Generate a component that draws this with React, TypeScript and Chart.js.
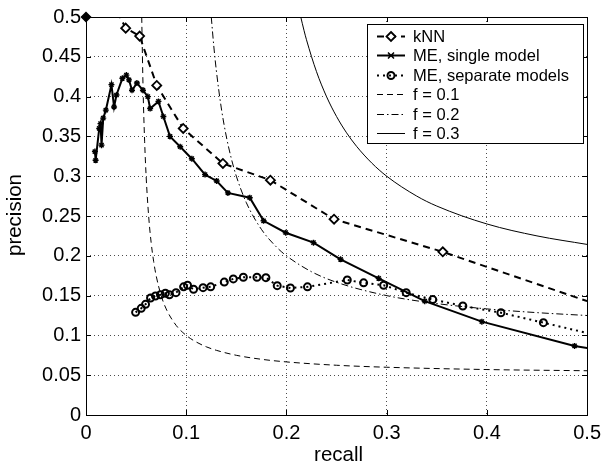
import React, { useEffect, useRef } from "react";
import { Chart, registerables } from "chart.js";
Chart.register(...registerables);

// ---- data ----
const knnRecall = [0, 0.026, 0.0396, 0.0535, 0.0706, 0.097, 0.1366, 0.184, 0.2475, 0.356, 0.5];
const knnPrecision = [0.5, 0.52, 0.486, 0.476, 0.414, 0.36, 0.316, 0.295, 0.246, 0.205, 0.143];

const meSingleRecall = [0.0089, 0.0096, 0.0132, 0.0145, 0.0155, 0.0172, 0.0198, 0.0254, 0.028, 0.0304, 0.0363, 0.0403, 0.0429, 0.0459, 0.0508, 0.0568, 0.0617, 0.064, 0.0723, 0.0772, 0.0838, 0.094, 0.1056, 0.1188, 0.1304, 0.1416, 0.1634, 0.1772, 0.1993, 0.227, 0.254, 0.292, 0.338, 0.395, 0.4875, 0.5];
const meSinglePrecision = [0.331, 0.32, 0.36, 0.366, 0.339, 0.373, 0.383, 0.415, 0.387, 0.402, 0.423, 0.427, 0.421, 0.408, 0.417, 0.408, 0.4, 0.385, 0.394, 0.375, 0.35, 0.337, 0.322, 0.302, 0.294, 0.279, 0.273, 0.244, 0.229, 0.2165, 0.1956, 0.1717, 0.143, 0.1173, 0.0867, 0.084];

const meSepRecall = [0.0495, 0.0551, 0.0594, 0.0644, 0.0693, 0.0743, 0.0792, 0.0832, 0.0898, 0.0974, 0.1013, 0.1073, 0.1168, 0.1244, 0.138, 0.147, 0.157, 0.1706, 0.1795, 0.1908, 0.204, 0.221, 0.2607, 0.277, 0.297, 0.3195, 0.346, 0.376, 0.414, 0.4564, 0.5];
const meSepPrecision = [0.129, 0.134, 0.139, 0.147, 0.1495, 0.151, 0.153, 0.151, 0.1537, 0.161, 0.163, 0.158, 0.16, 0.161, 0.167, 0.171, 0.173, 0.173, 0.1725, 0.1625, 0.1595, 0.161, 0.1696, 0.166, 0.163, 0.1537, 0.145, 0.137, 0.1285, 0.116, 0.103];

const f01Recall = [0.0556, 0.057, 0.0585, 0.06, 0.0625, 0.065, 0.0675, 0.07, 0.075, 0.08, 0.09, 0.1, 0.11, 0.12, 0.13, 0.15, 0.175, 0.2, 0.25, 0.3, 0.4, 0.5];
const f01Precision = [0.5, 0.407, 0.344, 0.3, 0.25, 0.2167, 0.193, 0.175, 0.15, 0.1333, 0.1125, 0.1, 0.0917, 0.0857, 0.0813, 0.075, 0.07, 0.0667, 0.0625, 0.06, 0.0571, 0.0556];

const f02Recall = [0.125, 0.1275, 0.13, 0.135, 0.14, 0.145, 0.15, 0.16, 0.175, 0.19, 0.2, 0.225, 0.25, 0.3, 0.35, 0.4, 0.45, 0.5];
const f02Precision = [0.5, 0.4636, 0.4333, 0.3857, 0.35, 0.3222, 0.3, 0.2667, 0.2333, 0.2111, 0.2, 0.18, 0.1667, 0.15, 0.14, 0.1333, 0.1286, 0.125];

const f03Recall = [0.2143, 0.2175, 0.22, 0.23, 0.24, 0.25, 0.26, 0.27, 0.285, 0.3, 0.33, 0.35, 0.4, 0.45, 0.5];
const f03Precision = [0.5, 0.4833, 0.4714, 0.4313, 0.4, 0.375, 0.3545, 0.3375, 0.3167, 0.3, 0.275, 0.2625, 0.24, 0.225, 0.2143];

const xTickValues = [0, 0.1, 0.2, 0.3, 0.4, 0.5];
const xTickLabels = ["0", "0.1", "0.2", "0.3", "0.4", "0.5"];
const yTickValues = [0, 0.05, 0.1, 0.15, 0.2, 0.25, 0.3, 0.35, 0.4, 0.45, 0.5];
const yTickLabels = ["0", "0.05", "0.1", "0.15", "0.2", "0.25", "0.3", "0.35", "0.4", "0.45", "0.5"];

const legendLabels = ["kNN", "ME, single model", "ME, separate models", "f = 0.1", "f = 0.2", "f = 0.3"];
const xTitle = "recall";
const yTitle = "precision";

const FONT = '"Liberation Sans", Arial, Helvetica, sans-serif';

const pts = (xs: number[], ys: number[]) => xs.map((x, i) => ({ x, y: ys[i] }));

function drawMarker(ctx: CanvasRenderingContext2D, kind: string, x: number, y: number) {
  ctx.save();
  ctx.setLineDash([]);
  ctx.strokeStyle = "#000";
  if (kind === "diamond") {
    ctx.lineWidth = 1.8;
    ctx.fillStyle = "#fff";
    ctx.beginPath();
    ctx.moveTo(x, y - 4.5);
    ctx.lineTo(x + 4.5, y);
    ctx.lineTo(x, y + 4.5);
    ctx.lineTo(x - 4.5, y);
    ctx.closePath();
    ctx.fill();
    ctx.stroke();
  } else if (kind === "star") {
    ctx.lineWidth = 1.5;
    ctx.beginPath();
    const r = 3;
    ctx.moveTo(x - r, y - r); ctx.lineTo(x + r, y + r);
    ctx.moveTo(x - r, y + r); ctx.lineTo(x + r, y - r);
    ctx.moveTo(x - r, y); ctx.lineTo(x + r, y);
    ctx.stroke();
  } else if (kind === "circle") {
    ctx.lineWidth = 2;
    ctx.beginPath();
    ctx.arc(x, y, 3.5, 0, Math.PI * 2);
    ctx.stroke();
  }
  ctx.restore();
}

const decorPlugin = {
  id: "decor",
  afterDraw(chart: any) {
    const { ctx, chartArea: a, scales } = chart;
    ctx.save();
    // frame
    ctx.setLineDash([]);
    ctx.strokeStyle = "#000";
    ctx.lineWidth = 1;
    ctx.strokeRect(Math.round(a.left) + 0.5, Math.round(a.top) + 0.5, Math.round(a.right - a.left), Math.round(a.bottom - a.top));
    // inward tick marks on all four sides
    const tl = 5;
    ctx.beginPath();
    xTickValues.forEach((v) => {
      const px = Math.round(scales.x.getPixelForValue(v)) + 0.5;
      ctx.moveTo(px, a.bottom); ctx.lineTo(px, a.bottom - tl);
      ctx.moveTo(px, a.top); ctx.lineTo(px, a.top + tl);
    });
    yTickValues.forEach((v) => {
      const py = Math.round(scales.y.getPixelForValue(v)) + 0.5;
      ctx.moveTo(a.left, py); ctx.lineTo(a.left + tl, py);
      ctx.moveTo(a.right, py); ctx.lineTo(a.right - tl, py);
    });
    ctx.stroke();

    // axis titles
    ctx.fillStyle = "#000";
    ctx.font = `20.5px ${FONT}`;
    ctx.textAlign = "center";
    ctx.textBaseline = "alphabetic";
    ctx.fillText(xTitle, (a.left + a.right) / 2 + 2, 461);
    ctx.save();
    ctx.translate(21, (a.top + a.bottom) / 2 - 1);
    ctx.rotate(-Math.PI / 2);
    ctx.fillText(yTitle, 0, 0);
    ctx.restore();

    // legend
    const bx = 367.5, by = 24.5, bw = 216, bh = 119;
    ctx.fillStyle = "#fff";
    ctx.fillRect(bx, by, bw, bh);
    ctx.strokeStyle = "#000";
    ctx.lineWidth = 1;
    ctx.strokeRect(bx, by, bw, bh);
    const styles = [
      { w: 2, dash: [7, 5], marker: "diamond" },
      { w: 2, dash: [], marker: "star" },
      { w: 2, dash: [2, 4], marker: "circle" },
      { w: 1, dash: [6, 4], marker: "" },
      { w: 1, dash: [7, 3, 1.5, 3], marker: "" },
      { w: 1, dash: [], marker: "" },
    ];
    ctx.font = `16.5px ${FONT}`;
    ctx.textAlign = "left";
    ctx.textBaseline = "middle";
    legendLabels.forEach((lab, i) => {
      const y = Math.round(36 + i * 19.4) + 0.5;
      const s = styles[i];
      ctx.strokeStyle = "#000";
      ctx.lineWidth = s.w;
      ctx.setLineDash(s.dash);
      ctx.beginPath();
      ctx.moveTo(377, y);
      ctx.lineTo(405, y);
      ctx.stroke();
      ctx.setLineDash([]);
      if (s.marker) drawMarker(ctx, s.marker, 391, y);
      ctx.fillStyle = "#000";
      ctx.fillText(lab, 413, y + 1);
    });
    ctx.restore();
  },
};

export default function App() {
  const ref = useRef<HTMLCanvasElement>(null);
  useEffect(() => {
    const knnLine = pts(knnRecall.slice(1), knnPrecision.slice(1));
    const knnCorner = pts(knnRecall.slice(0, 1), knnPrecision.slice(0, 1));
    const knnRadius = knnLine.map((p) => (p.y > 0.5 || p.x >= 0.5 ? 0 : 4.5));
    const meRadius = meSingleRecall.map((x) => (x >= 0.5 ? 0 : 3));
    const sepRadius = meSepRecall.map((x) => (x >= 0.5 ? 0 : 3.5));
    const gridCommon = {
      color: "rgba(0,0,0,0.7)",
      lineWidth: 1,
      drawTicks: false,
    };
    const chart = new Chart(ref.current!, {
      type: "scatter",
      data: {
        datasets: [
          {
            label: "kNN corner",
            data: knnCorner,
            showLine: false,
            pointStyle: "rectRot",
            pointRadius: 4.5,
            pointBorderWidth: 1.5,
            pointBackgroundColor: "#000",
            pointBorderColor: "#000",
            clip: false,
          } as any,
          {
            label: legendLabels[0],
            data: knnLine,
            showLine: true,
            borderColor: "#000",
            borderWidth: 2,
            borderDash: [7, 5],
            pointStyle: "rectRot",
            pointRadius: knnRadius,
            pointBorderWidth: 1.8,
            pointBackgroundColor: "#fff",
            pointBorderColor: "#000",
          },
          {
            label: legendLabels[1],
            data: pts(meSingleRecall, meSinglePrecision),
            showLine: true,
            borderColor: "#000",
            borderWidth: 2,
            pointStyle: "star",
            pointRadius: meRadius,
            pointBorderWidth: 1.4,
            pointBorderColor: "#000",
            pointBackgroundColor: "#000",
          },
          {
            label: legendLabels[2],
            data: pts(meSepRecall, meSepPrecision),
            showLine: true,
            borderColor: "#000",
            borderWidth: 2,
            borderDash: [2, 4],
            pointStyle: "circle",
            pointRadius: sepRadius,
            pointBorderWidth: 2,
            pointBorderColor: "#000",
            pointBackgroundColor: "rgba(255,255,255,0)",
          },
          {
            label: legendLabels[3],
            data: pts(f01Recall, f01Precision),
            showLine: true,
            borderColor: "#000",
            borderWidth: 1,
            borderDash: [6, 4],
            pointRadius: 0,
            cubicInterpolationMode: "monotone",
          },
          {
            label: legendLabels[4],
            data: pts(f02Recall, f02Precision),
            showLine: true,
            borderColor: "#000",
            borderWidth: 1,
            borderDash: [7, 3, 1.5, 3],
            pointRadius: 0,
            cubicInterpolationMode: "monotone",
          },
          {
            label: legendLabels[5],
            data: pts(f03Recall, f03Precision),
            showLine: true,
            borderColor: "#000",
            borderWidth: 1,
            pointRadius: 0,
            cubicInterpolationMode: "monotone",
          },
        ],
      },
      options: {
        responsive: false,
        animation: false,
        devicePixelRatio: 1,
        layout: { padding: { top: 17, right: 16, left: 0, bottom: 0 } },
        plugins: { legend: { display: false }, tooltip: { enabled: false } },
        scales: {
          x: {
            type: "linear",
            min: 0,
            max: 0.5,
            afterBuildTicks: (s: any) => { s.ticks = xTickValues.map((v) => ({ value: v })); },
            afterFit: (s: any) => { s.height = 51; },
            grid: gridCommon,
            border: { display: false, dash: [1, 3] },
            ticks: {
              color: "#000",
              font: { family: FONT, size: 20 },
              padding: 6,
              maxRotation: 0,
              callback: (v: any) => xTickLabels[xTickValues.findIndex((t) => Math.abs(t - v) < 1e-9)] ?? "",
            },
          },
          y: {
            type: "linear",
            min: 0,
            max: 0.5,
            afterBuildTicks: (s: any) => { s.ticks = yTickValues.map((v) => ({ value: v })); },
            afterFit: (s: any) => { s.width = 86; },
            grid: gridCommon,
            border: { display: false, dash: [1, 3] },
            ticks: {
              color: "#000",
              font: { family: FONT, size: 20 },
              padding: 5,
              callback: (v: any) => yTickLabels[yTickValues.findIndex((t) => Math.abs(t - v) < 1e-9)] ?? "",
            },
          },
        },
      },
      plugins: [decorPlugin],
    } as any);
    return () => chart.destroy();
  }, []);
  return (
    <div style={{ position: "absolute", left: 0, top: 0, width: 607, height: 466, background: "#fff" }}>
      <canvas ref={ref} width={607} height={466} style={{ display: "block", width: 607, height: 466 }} />
    </div>
  );
}
